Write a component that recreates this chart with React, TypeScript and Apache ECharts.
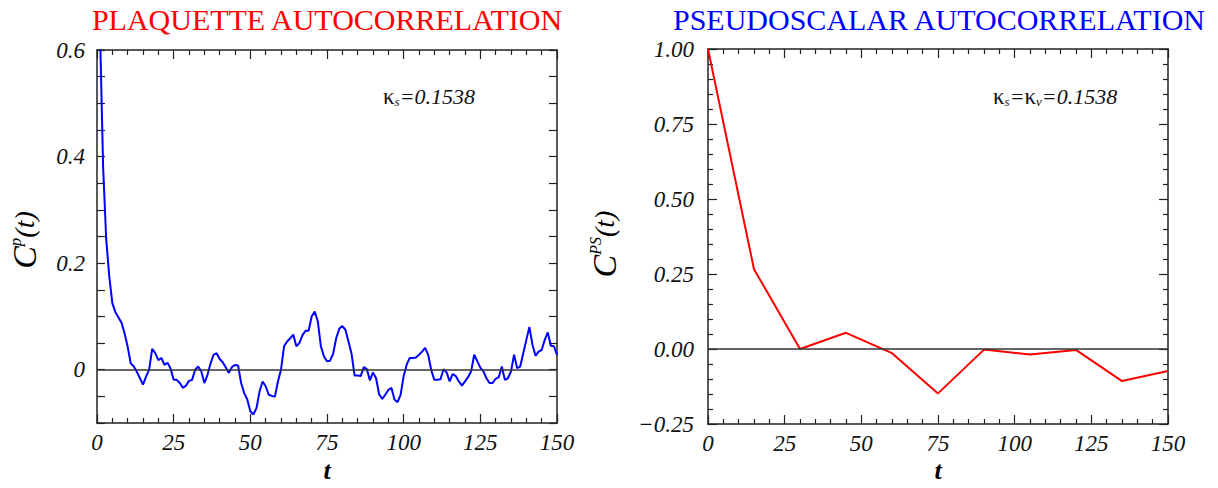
import React, { useEffect, useRef } from "react";
import * as echarts from "echarts";

// Plaquette autocorrelation C^p(t), t = 0..150
const plaquetteC = [
  1.0, 0.63, 0.38, 0.245, 0.175, 0.125, 0.108, 0.098, 0.088, 0.068,
  0.043, 0.012, 0.006, -0.004, -0.016, -0.028, -0.013, 0.0, 0.039, 0.031,
  0.018, 0.022, 0.009, 0.013, 0.002, -0.019, -0.019, -0.025, -0.034, -0.03,
  -0.021, -0.019, 0.0, 0.006, -0.003, -0.025, -0.01, 0.011, 0.028, 0.031,
  0.02, 0.014, 0.004, -0.006, 0.005, 0.009, 0.008, -0.025, -0.044, -0.056,
  -0.078, -0.084, -0.072, -0.041, -0.022, -0.031, -0.047, -0.049, -0.051, -0.022,
  0.0, 0.044, 0.053, 0.059, 0.066, 0.044, 0.05, 0.065, 0.073, 0.073,
  0.1, 0.109, 0.091, 0.044, 0.025, 0.016, 0.017, 0.03, 0.059, 0.077,
  0.082, 0.075, 0.053, 0.03, -0.011, -0.011, -0.012, 0.005, 0.001, -0.02,
  -0.005, -0.016, -0.046, -0.055, -0.047, -0.038, -0.034, -0.056, -0.061, -0.047,
  -0.012, 0.01, 0.022, 0.022, 0.023, 0.028, 0.034, 0.041, 0.028, -0.001,
  -0.019, -0.019, -0.018, 0.001, -0.005, -0.022, -0.008, -0.012, -0.022, -0.03,
  -0.022, -0.014, -0.003, 0.028, 0.016, 0.004, -0.003, -0.016, -0.025, -0.025,
  -0.017, -0.014, 0.006, -0.019, -0.016, -0.003, 0.028, 0.003, 0.006, 0.031,
  0.056, 0.08, 0.047, 0.026, 0.034, 0.037, 0.056, 0.07, 0.045, 0.044,
  0.028,
];

// Pseudoscalar autocorrelation C^PS(t)
const psT = [0, 15, 30, 45, 60, 75, 90, 105, 120, 135, 150];
const psC = [1.0, 0.266, 0.0, 0.054, -0.014, -0.148, -0.002, -0.018, -0.003, -0.107, -0.073];

const xTicks = [0, 25, 50, 75, 100, 125, 150];
const leftYLabels = [0, 0.2, 0.4, 0.6];

const titleLeft = "PLAQUETTE AUTOCORRELATION";
const titleRight = "PSEUDOSCALAR AUTOCORRELATION";

const SERIF = "Liberation Serif";

export default function App() {
  const ref = useRef<HTMLDivElement>(null);
  useEffect(() => {
    if (!ref.current) return;
    const chart = echarts.init(ref.current, null, { renderer: "svg" });

    const labelStyle = {
      fontFamily: SERIF,
      fontStyle: "italic",
      fontSize: 23,
      color: "#111",
    };
    const axisLine = { show: true, onZero: false, lineStyle: { color: "#222", width: 1.5 } };

    const xAxisBase = (gridIndex: number, position: "bottom" | "top", showLabel: boolean) => ({
      type: "value",
      gridIndex,
      position,
      min: 0,
      max: 150,
      interval: 25,
      axisLine,
      axisTick: { show: true, inside: true, length: 9, lineStyle: { color: "#222", width: 1.2 } },
      minorTick: { show: true, splitNumber: 5, length: 5, lineStyle: { color: "#222", width: 1.2 } },
      splitLine: { show: false },
      minorSplitLine: { show: false },
      axisLabel: {
        show: showLabel,
        margin: 8,
        ...labelStyle,
        formatter: (v: number) => (xTicks.includes(v) ? String(v) : ""),
      },
    });

    const leftY = (position: "left" | "right", showLabel: boolean) => ({
      type: "value",
      gridIndex: 0,
      position,
      min: -0.1,
      max: 0.6,
      interval: 0.05,
      axisLine,
      axisTick: { show: true, inside: true, length: 8, lineStyle: { color: "#222", width: 1.2 } },
      splitLine: { show: false },
      axisLabel: {
        show: showLabel,
        margin: 12,
        ...labelStyle,
        formatter: (v: number) => {
          const hit = leftYLabels.find((l) => Math.abs(l - v) < 1e-6);
          if (hit === undefined) return "";
          return hit === 0 ? "0" : hit.toFixed(1);
        },
      },
    });

    const rightY = (position: "left" | "right", showLabel: boolean) => ({
      type: "value",
      gridIndex: 1,
      position,
      min: -0.25,
      max: 1.0,
      interval: 0.25,
      axisLine,
      axisTick: { show: true, inside: true, length: 9, lineStyle: { color: "#222", width: 1.2 } },
      minorTick: { show: true, splitNumber: 5, length: 5, lineStyle: { color: "#222", width: 1.2 } },
      splitLine: { show: false },
      minorSplitLine: { show: false },
      axisLabel: {
        show: showLabel,
        margin: 14,
        ...labelStyle,
        formatter: (v: number) => (v < 0 ? "\u2212" + Math.abs(v).toFixed(2) : v.toFixed(2)),
      },
    });

    const zeroLine = {
      silent: true,
      symbol: ["none", "none"],
      label: { show: false },
      lineStyle: { color: "#333", width: 1.5, type: "solid" },
      data: [{ yAxis: 0 }],
    };

    const option = {
      animation: false,
      backgroundColor: "#fff",
      grid: [
        { left: 97, top: 50, width: 460, height: 373 },
        { left: 708, top: 49, width: 460, height: 375 },
      ],
      xAxis: [
        xAxisBase(0, "bottom", true),
        xAxisBase(0, "top", false),
        xAxisBase(1, "bottom", true),
        xAxisBase(1, "top", false),
      ],
      yAxis: [leftY("left", true), leftY("right", false), rightY("left", true), rightY("right", false)],
      series: [
        {
          type: "line",
          xAxisIndex: 0,
          yAxisIndex: 0,
          data: plaquetteC.map((v, i) => [i, v]),
          showSymbol: false,
          symbol: "none",
          clip: true,
          lineStyle: { color: "#0000ff", width: 2 },
          itemStyle: { color: "#0000ff" },
          markLine: zeroLine,
          z: 3,
        },
        {
          type: "line",
          xAxisIndex: 2,
          yAxisIndex: 2,
          data: psT.map((t, i) => [t, psC[i]]),
          showSymbol: false,
          symbol: "none",
          clip: true,
          lineStyle: { color: "#ff0000", width: 2 },
          itemStyle: { color: "#ff0000" },
          markLine: zeroLine,
          z: 3,
        },
      ],
      graphic: [
        {
          type: "text",
          x: 327,
          y: 19,
          style: {
            text: titleLeft,
            fill: "#ff0000",
            fontFamily: SERIF,
            fontSize: 30,
            align: "center",
            verticalAlign: "middle",
          },
        },
        {
          type: "text",
          x: 939,
          y: 19,
          style: {
            text: titleRight,
            fill: "#0000ff",
            fontFamily: SERIF,
            fontSize: 30,
            align: "center",
            verticalAlign: "middle",
          },
        },
        {
          type: "text",
          x: 383,
          y: 96,
          style: {
            text: "{k|κ}{s|s}{e|=0.1538}",
            align: "left",
            verticalAlign: "middle",
            rich: {
              k: { fontFamily: SERIF, fontSize: 23, fill: "#111" },
              s: { fontFamily: SERIF, fontStyle: "italic", fontSize: 13, fill: "#111", verticalAlign: "bottom", lineHeight: 8 },
              e: { fontFamily: SERIF, fontStyle: "italic", fontSize: 22, fill: "#111" },
            },
          },
        },
        {
          type: "text",
          x: 993,
          y: 96,
          style: {
            text: "{k|κ}{s|s}{e|=}{k|κ}{s|v}{e|=0.1538}",
            align: "left",
            verticalAlign: "middle",
            rich: {
              k: { fontFamily: SERIF, fontSize: 23, fill: "#111" },
              s: { fontFamily: SERIF, fontStyle: "italic", fontSize: 13, fill: "#111", verticalAlign: "bottom", lineHeight: 8 },
              e: { fontFamily: SERIF, fontStyle: "italic", fontSize: 22, fill: "#111" },
            },
          },
        },
        {
          type: "text",
          x: 24,
          y: 240,
          rotation: Math.PI / 2,
          style: {
            text: "{c|C}{p|p}{r|(t)}",
            align: "center",
            verticalAlign: "middle",
            rich: {
              c: { fontFamily: SERIF, fontStyle: "italic", fontSize: 34, fill: "#000" },
              p: { fontFamily: SERIF, fontStyle: "italic", fontSize: 17, fill: "#000", verticalAlign: "top", lineHeight: 16 },
              r: { fontFamily: SERIF, fontStyle: "italic", fontSize: 28, fill: "#000" },
            },
          },
        },
        {
          type: "text",
          x: 604,
          y: 244,
          rotation: Math.PI / 2,
          style: {
            text: "{c|C}{p|PS}{r|(t)}",
            align: "center",
            verticalAlign: "middle",
            rich: {
              c: { fontFamily: SERIF, fontStyle: "italic", fontSize: 34, fill: "#000" },
              p: { fontFamily: SERIF, fontStyle: "italic", fontSize: 16, fill: "#000", verticalAlign: "top", lineHeight: 16 },
              r: { fontFamily: SERIF, fontStyle: "italic", fontSize: 28, fill: "#000" },
            },
          },
        },
        {
          type: "text",
          x: 327,
          y: 470,
          style: {
            text: "t",
            fill: "#000",
            fontFamily: SERIF,
            fontStyle: "italic",
            fontWeight: "bold",
            fontSize: 26,
            align: "center",
            verticalAlign: "middle",
          },
        },
        {
          type: "text",
          x: 938,
          y: 470,
          style: {
            text: "t",
            fill: "#000",
            fontFamily: SERIF,
            fontStyle: "italic",
            fontWeight: "bold",
            fontSize: 26,
            align: "center",
            verticalAlign: "middle",
          },
        },
      ],
    };

    chart.setOption(option as any);
    return () => chart.dispose();
  }, []);

  return (
    <div
      ref={ref}
      style={{ position: "absolute", left: 0, top: 0, width: 1218, height: 488, background: "#fff" }}
    />
  );
}
